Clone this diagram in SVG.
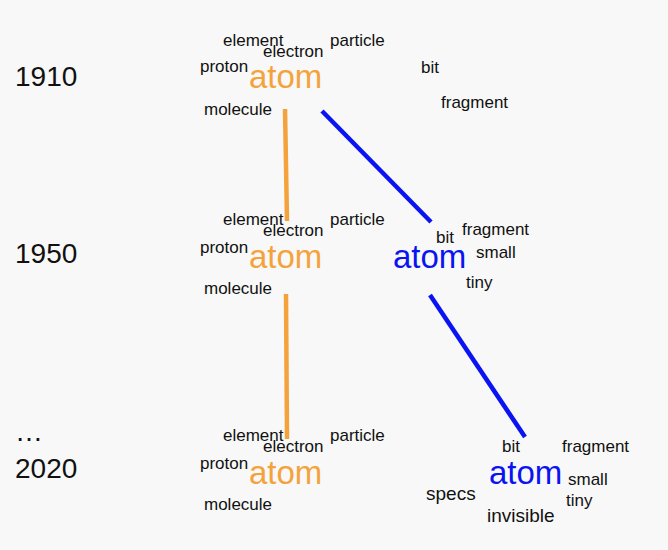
<svg xmlns="http://www.w3.org/2000/svg" width="668" height="550" viewBox="0 0 668 550">
<style>
text{font-family:"Liberation Sans",Arial,sans-serif;}
.yr{font-size:28px;fill:#111;}
.w{font-size:17px;fill:#111;}
.wl{font-size:19px;fill:#111;}
.ao{font-size:33px;fill:#f4a33c;}
.ab{font-size:33px;fill:#0a14f2;}
.lo{stroke:#f4a33c;stroke-width:4.5;fill:none;}
.lb{stroke:#0a14f2;stroke-width:4.5;fill:none;}
</style>
<rect width="668" height="550" fill="#f8f8f8"/>
<g id="years">
<text class="yr" x="15" y="86">1910</text>
<text class="yr" x="15" y="263">1950</text>
<text class="yr" x="15" y="441">…</text>
<text class="yr" x="15" y="478">2020</text>
</g>
<g id="connectors">
<line class="lo" x1="285" y1="109" x2="287" y2="221"/>
<line class="lo" x1="286" y1="294" x2="287" y2="439"/>
<line class="lb" x1="322" y1="111" x2="431" y2="222"/>
<line class="lb" x1="430" y1="295" x2="525" y2="437"/>
</g>
<g id="atom1910">
<text class="w" x="223" y="46">element</text>
<text class="w" x="263" y="57">electron</text>
<text class="w" x="330" y="46">particle</text>
<text class="w" x="200" y="72">proton</text>
<text class="ao" x="249" y="88">atom</text>
<text class="w" x="204" y="115">molecule</text>
<text class="w" x="421" y="73">bit</text>
<text class="w" x="441" y="108">fragment</text>
</g>
<g id="atom1950">
<text class="w" x="223" y="225">element</text>
<text class="w" x="263" y="236">electron</text>
<text class="w" x="330" y="225">particle</text>
<text class="w" x="200" y="253">proton</text>
<text class="ao" x="249" y="268">atom</text>
<text class="w" x="204" y="294">molecule</text>
</g>
<g id="atom1950b">
<text class="ab" x="393" y="268">atom</text>
<text class="w" x="436" y="243">bit</text>
<text class="w" x="462" y="235">fragment</text>
<text class="w" x="476" y="258">small</text>
<text class="w" x="466" y="288">tiny</text>
</g>
<g id="atom2020">
<text class="w" x="223" y="441">element</text>
<text class="w" x="263" y="452">electron</text>
<text class="w" x="330" y="441">particle</text>
<text class="w" x="200" y="469">proton</text>
<text class="ao" x="249" y="484">atom</text>
<text class="w" x="204" y="510">molecule</text>
</g>
<g id="atom2020b">
<text class="ab" x="489" y="484">atom</text>
<text class="w" x="502" y="452">bit</text>
<text class="w" x="562" y="452">fragment</text>
<text class="w" x="568" y="485">small</text>
<text class="w" x="566" y="506">tiny</text>
<text class="wl" x="426" y="500">specs</text>
<text class="wl" x="487" y="522">invisible</text>
</g>
</svg>
